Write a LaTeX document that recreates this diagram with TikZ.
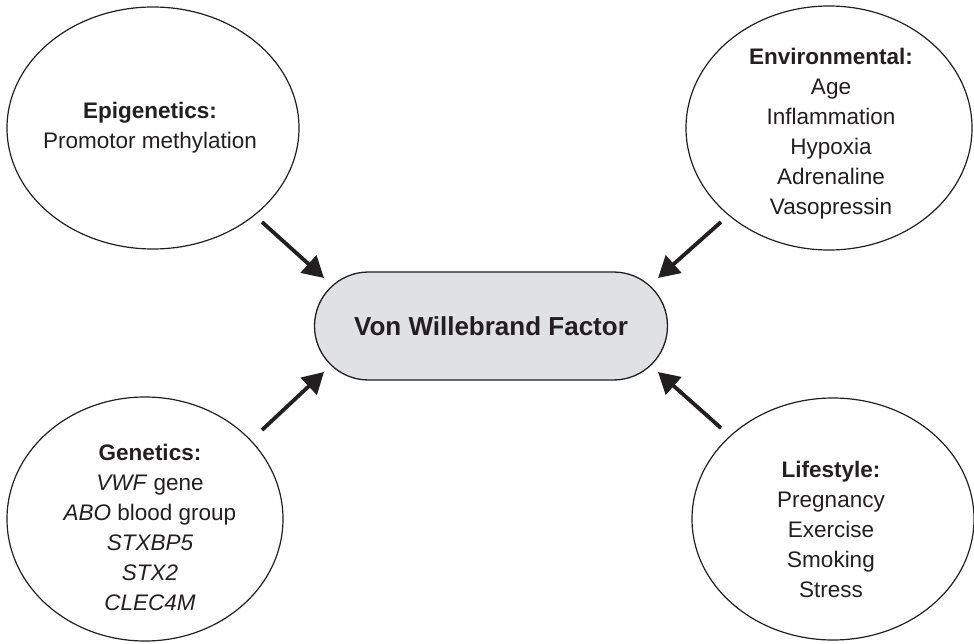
\documentclass[tikz,border=0pt]{standalone}
\usepackage{fontspec}
\setmainfont{Liberation Sans}
\usetikzlibrary{shapes.geometric,arrows.meta}
\definecolor{ink}{HTML}{231F20}
\definecolor{boxfill}{HTML}{E0E1E3}
\tikzset{
  circ/.style={draw=ink,line width=1.2pt,ellipse,inner sep=0pt},
  txt/.style={align=center,text=ink,font=\fontsize{22.5}{30}\selectfont},
  arr/.style={draw=ink,line width=3.8pt,-{Triangle[length=21pt,width=23pt]}},
}
\begin{document}
\begin{tikzpicture}[x=1pt,y=-1pt]
\useasboundingbox (0,0) rectangle (974,644);
% centre node
\node[draw=ink,line width=1.3pt,fill=boxfill,rounded corners=54pt,minimum width=353pt,minimum height=108pt,text=ink,font=\fontsize{26}{30}\selectfont\bfseries] (vwf) at (491,326) {Von Willebrand Factor};
% ellipses
\node[circ,minimum width=292pt,minimum height=242pt] (epi) at (153,128) {};
\node[circ,minimum width=286pt,minimum height=244pt] (env) at (829,128) {};
\node[circ,minimum width=276pt,minimum height=244pt] (gen) at (145,519) {};
\node[circ,minimum width=282pt,minimum height=242pt] (life) at (833,519) {};
% texts
\node[txt] (epit) at (150,128) {\textbf{Epigenetics:}\\Promotor methylation};
\node[txt] (envt) at (831,134) {\textbf{Environmental:}\\Age\\Inflammation\\Hypoxia\\Adrenaline\\Vasopressin};
\node[txt] (gent) at (150,527) {\textbf{Genetics:}\\\textit{VWF} gene\\\textit{ABO} blood group\\\textit{STXBP5}\\\textit{STX2}\\\textit{CLEC4M}};
\node[txt] (lifet) at (831,529) {\textbf{Lifestyle:}\\Pregnancy\\Exercise\\Smoking\\Stress};
% arrows
\coordinate (a1s) at (262,222); \coordinate (a1e) at (324,278);
\coordinate (a2s) at (721,222); \coordinate (a2e) at (658,278);
\coordinate (a3s) at (262,430); \coordinate (a3e) at (324,372);
\coordinate (a4s) at (721,428); \coordinate (a4e) at (658,372);
\draw[arr] (a1s) -- (a1e);
\draw[arr] (a2s) -- (a2e);
\draw[arr] (a3s) -- (a3e);
\draw[arr] (a4s) -- (a4e);
\end{tikzpicture}
\end{document}
